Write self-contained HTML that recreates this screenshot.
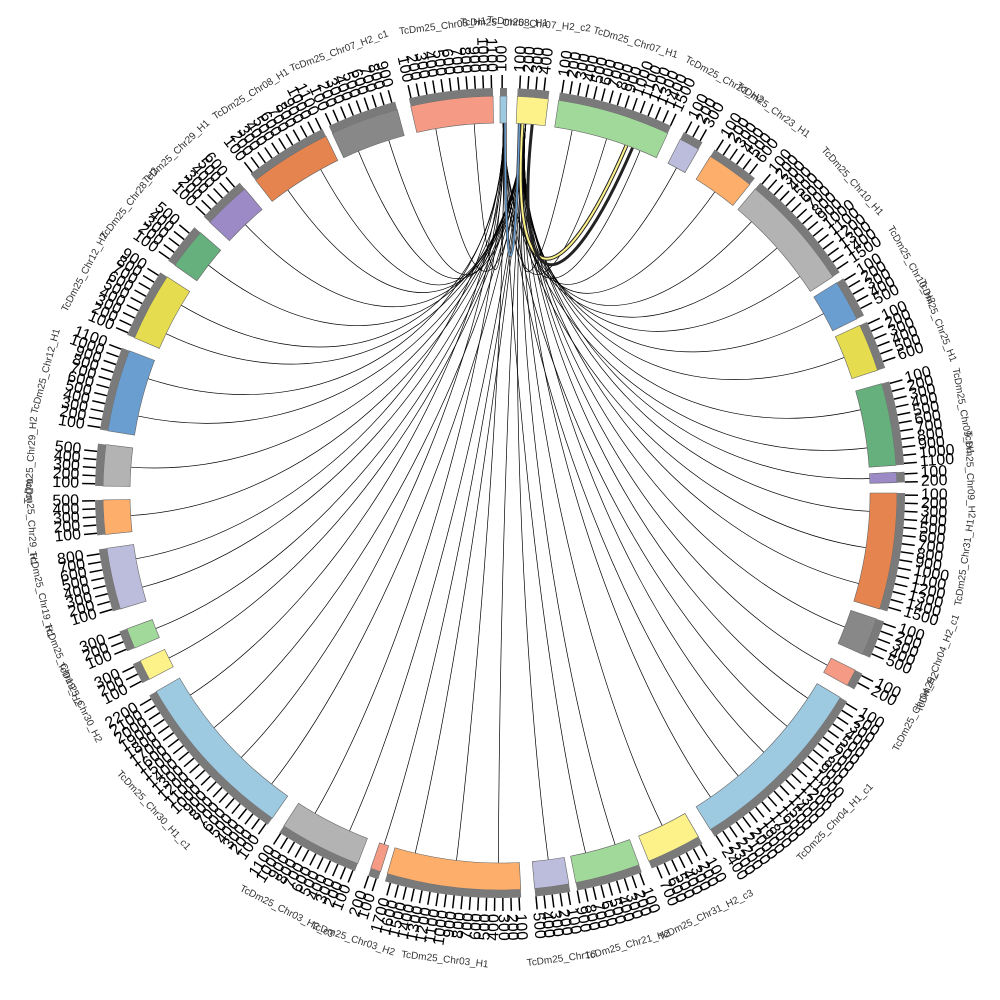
<!DOCTYPE html>
<html><head><meta charset="utf-8"><style>
html,body{margin:0;padding:0;background:#fff;}
svg{display:block;}
text{font-family:"Liberation Sans",sans-serif;}
</style></head><body>
<svg id="s" width="1000" height="1000" viewBox="0 0 1000 1000" xmlns="http://www.w3.org/2000/svg"></svg>
<script>
const S=document.getElementById('s');
const CX=500,CY=493,R0=370,R1=397,R2=405,R3=418;
const segs=[
[0,1,'#9ecae1','TcDm25_Chr08_H1'],
[2.5,7,'#fdf28a','TcDm25_Chr07_H2_c2'],
[8.5,25,'#a1d99b','TcDm25_Chr07_H1'],
[27,30,'#bcbddc','TcDm25_Chr23_H2'],
[32,39,'#fdae6b','TcDm25_Chr23_H1'],
[40,57,'#b3b3b3','TcDm25_Chr10_H1'],
[58,64,'#6a9ed0','TcDm25_Chr10_H2'],
[65,72,'#e6dc4f','TcDm25_Chr25_H1'],
[74,86,'#66b07d','TcDm25_Chr09_H1'],
[87,88.5,'#9c8ac7','TcDm25_Chr09_H2'],
[90,107,'#e6844f','TcDm25_Chr31_H1'],
[108.5,114,'#888888','TcDm25_Chr04_H2_c1'],
[116.5,119,'#f59a84','TcDm25_Chr04_H2'],
[121,148,'#9ecae1','TcDm25_Chr04_H1_c1'],
[150,158,'#fdf28a','TcDm25_Chr31_H2_c3'],
[159.5,169,'#a1d99b','TcDm25_Chr21_H2'],
[170,175,'#bcbddc','TcDm25_Chr16'],
[177,196.5,'#fdae6b','TcDm25_Chr03_H1'],
[197.5,199,'#f59a84','TcDm25_Chr03_H2'],
[201,213,'#b3b3b3','TcDm25_Chr03_H2_c3'],
[215,240,'#9ecae1','TcDm25_Chr30_H1_c1'],
[242,245,'#fdf28a','TcDm25_Chr30_H2'],
[247,250,'#a1d99b','TcDm25_Chr19_H2'],
[253,262,'#bcbddc','TcDm25_Chr19_H1'],
[264,269,'#fdae6b','TcDm25_Chr29_H1'],
[271,277,'#b3b3b3','TcDm25_Chr29_H2'],
[279,291,'#6a9ed0','TcDm25_Chr12_H1'],
[293,303,'#e6dc4f','TcDm25_Chr12_H2'],
[305,311,'#66b07d','TcDm25_Chr28_H2'],
[313,320,'#9c8ac7','TcDm25_Chr29_H1'],
[322,334,'#e6844f','TcDm25_Chr08_H1'],
[335,345,'#888888','TcDm25_Chr07_H2_c1'],
[347,359,'#f59a84','TcDm25_Chr05_H1']
];
function P(r,a){const t=a*Math.PI/180;return [CX+r*Math.sin(t),CY-r*Math.cos(t)];}
function arc(r0,r1,a0,a1){const l=(a1-a0)>180?1:0;const p1=P(r1,a0),p2=P(r1,a1),p3=P(r0,a1),p4=P(r0,a0);
return `M${p1} A${r1},${r1} 0 ${l} 1 ${p2} L${p3} A${r0},${r0} 0 ${l} 0 ${p4}Z`;}
let h='';
let L='';
segs.forEach((s,i)=>{if(i<2)return;const n=Math.max(1,Math.round((s[1]-s[0])/6));
for(let k=0;k<n;k++){const a=s[0]+(s[1]-s[0])*(k+0.5)/n;const p=P(R0,a);const q=P(R0,k%2?0.5:4);
const c2=P(R0*0.45,a);
L+=`<path d="M${q} C507,310 ${c2} ${p}" fill="none" stroke="#000" stroke-width="0.7"/>`;}});
L+=`<path d="M${P(R0,3.5)} C510,300 560,300 ${P(R0,20)}" fill="none" stroke="#222" stroke-width="4"/>`;
L+=`<path d="M${P(R0,3.5)} C510,300 560,300 ${P(R0,20)}" fill="none" stroke="#fdf28a" stroke-width="2"/>`;
L+=`<path d="M${P(R0,5)} C512,310 565,305 ${P(R0,21)}" fill="none" stroke="#222" stroke-width="3"/>`;
L+=`<path d="M${P(R0,0.8)} C505,300 515,300 ${P(R0,3)}" fill="none" stroke="#333" stroke-width="3"/>`;
L+=`<path d="M${P(R0,0.8)} C505,300 515,300 ${P(R0,3)}" fill="none" stroke="#6a9ed0" stroke-width="1.5"/>`;
h+=L;
segs.forEach(s=>{
 h+=`<path d="${arc(R0,R1,s[0],s[1])}" fill="${s[2]}" stroke="#666" stroke-width="0.6"/>`;
 h+=`<path d="${arc(R1,R2,s[0],s[1])}" fill="#7a7a7a"/>`;
 const step=1.15;let n=Math.floor((s[1]-s[0])/step)+1;
 for(let k=0;k<n;k++){const a=s[0]+0.3+k*step;if(a>s[1])break;
  const p=P(R2,a),q=P(R3,a);h+=`<line x1="${p[0]}" y1="${p[1]}" x2="${q[0]}" y2="${q[1]}" stroke="#000" stroke-width="1.5"/>`;
  const t=P(R3+3,a);const lab=(k+1)*100;
  const left=a>180;const rot=left?a+90:a-90;
  h+=`<text x="${t[0]}" y="${t[1]}" font-size="16" transform="rotate(${rot} ${t[0]} ${t[1]})" text-anchor="${left?'end':'start'}" dominant-baseline="middle">${lab}</text>`;}
 const m=(s[0]+s[1])/2;const t=P(470,m);const rot=(m>89&&m<271)?m-180:m;
 h+=`<text x="${t[0]}" y="${t[1]}" font-size="10" fill="#333" transform="rotate(${rot} ${t[0]} ${t[1]})" text-anchor="middle" dominant-baseline="middle">${s[3]}</text>`;
});
S.innerHTML=h;
</script>
</body></html>
